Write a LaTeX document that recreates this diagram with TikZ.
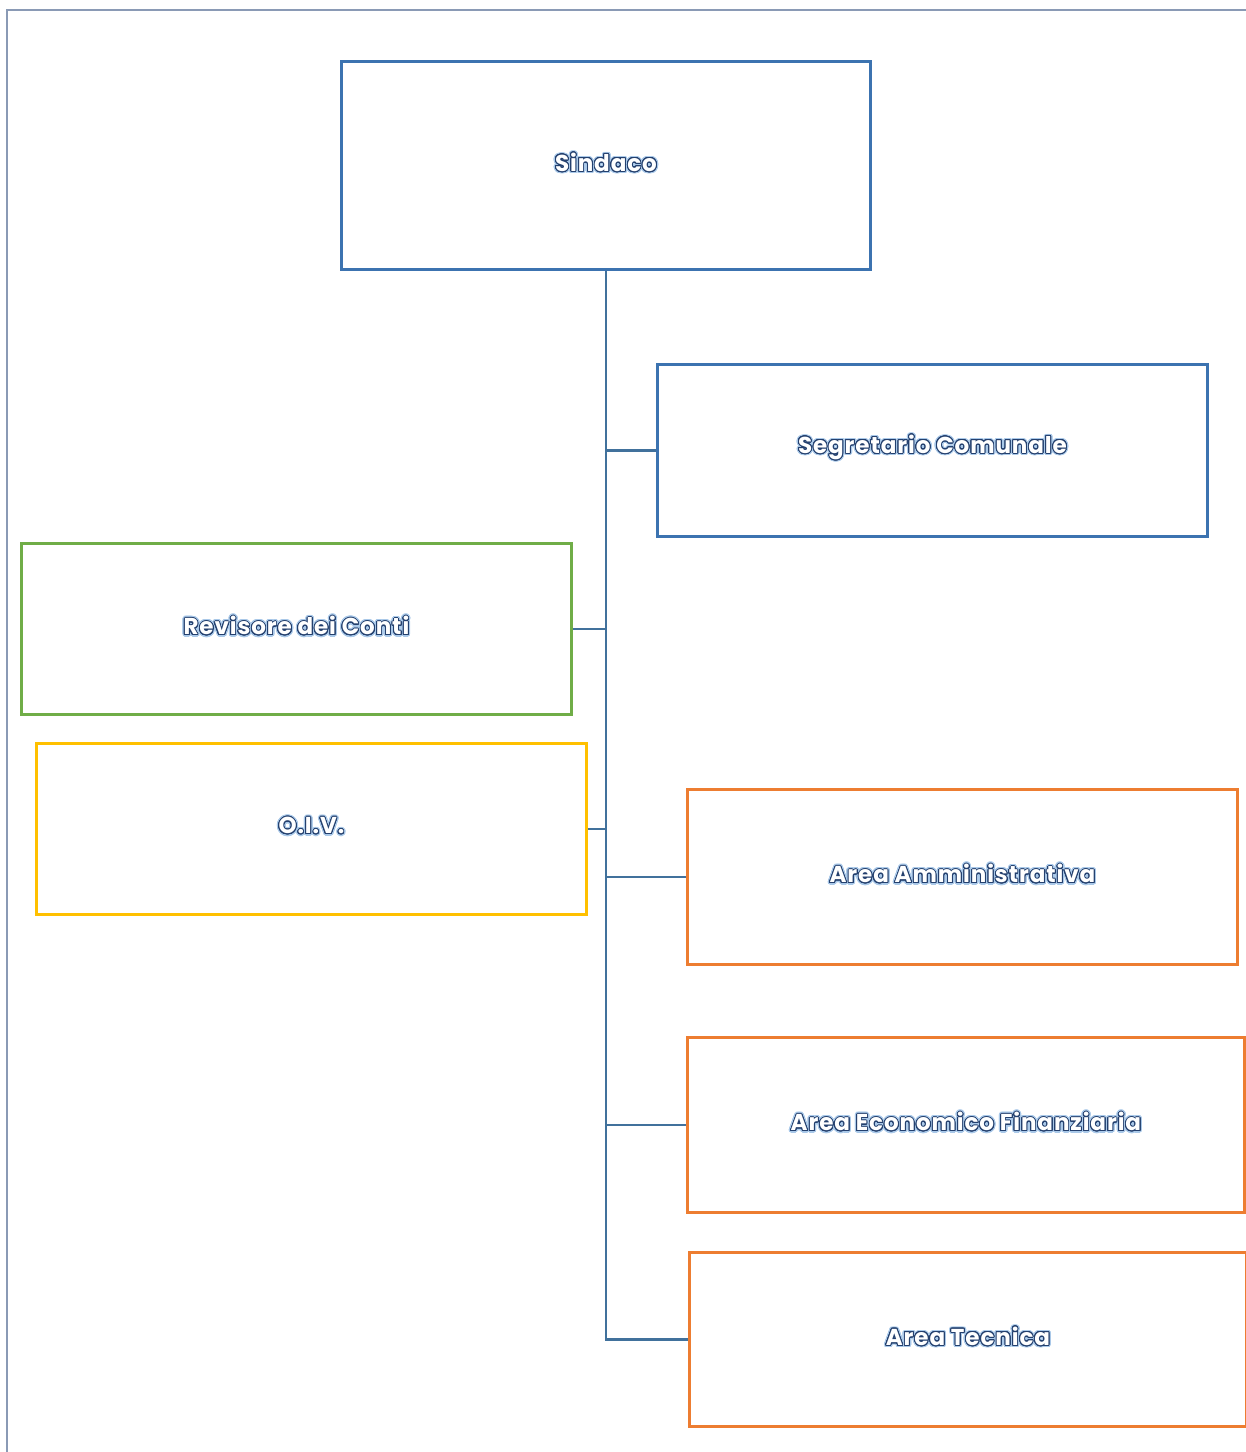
\documentclass[tikz,border=0pt]{standalone}
\usepackage{fontspec}
\setmainfont{Poppins}[LetterSpace=4]
\usepackage[copies]{contour}
\contourlength{0.9pt}
\contournumber{24}
\definecolor{frameline}{HTML}{8A9AB5}
\definecolor{bluebox}{HTML}{3C73B0}
\definecolor{greenbox}{HTML}{70AD47}
\definecolor{yellowbox}{HTML}{FFC000}
\definecolor{orangebox}{HTML}{ED7D31}
\definecolor{conn}{HTML}{41719C}
\definecolor{txtline}{HTML}{24406E}
\definecolor{glowc}{HTML}{A9C8E8}
\newcommand{\outl}[1]{\rlap{\contourlength{2.3pt}\contour{glowc}{\color{glowc}#1}}\contour{txtline}{\color{white}#1}}
\tikzset{
  unitbox/.style={draw, line width=2.8pt, inner sep=0pt, anchor=north west},
  unitlabel/.style={yshift=2pt, font=\bfseries\fontsize{23}{26}\selectfont},
  connline/.style={draw=conn, line width=2.8pt},
}
\begin{document}
\begin{tikzpicture}[x=1pt,y=-1pt]
\useasboundingbox (0,0) rectangle (1246,1452);
\draw[frameline, line width=1.6pt] (7,1452) -- (7,10) -- (1246,10);
\node[unitbox, draw=bluebox, minimum width=529pt, minimum height=208pt] (sindaco) at (340,60) {};
\node[unitlabel] at (sindaco.center) (sindacot) {\outl{Sindaco}};
\node[unitbox, draw=bluebox, minimum width=550pt, minimum height=172pt] (segr) at (656,363) {};
\node[unitlabel] at (segr.center) (segrt) {\outl{Segretario Comunale}};
\node[unitbox, draw=greenbox, minimum width=550pt, minimum height=171pt] (rev) at (20,542) {};
\node[unitlabel] at (rev.center) (revt) {\outl{Revisore dei Conti}};
\node[unitbox, draw=yellowbox, minimum width=550pt, minimum height=171pt] (oiv) at (35,742) {};
\node[unitlabel] at (oiv.center) (oivt) {\outl{O.I.V.}};
\node[unitbox, draw=orangebox, minimum width=550pt, minimum height=175pt] (amm) at (686,788) {};
\node[unitlabel] at (amm.center) (ammt) {\outl{Area Amministrativa}};
\node[unitbox, draw=orangebox, minimum width=557pt, minimum height=175pt] (eco) at (686,1036) {};
\node[unitlabel] at (eco.center) (ecot) {\outl{Area Economico Finanziaria}};
\node[unitbox, draw=orangebox, minimum width=557pt, minimum height=174pt] (tec) at (688,1251) {};
\node[unitlabel] at (tec.center) (tect) {\outl{Area Tecnica}};
\coordinate (trunkbot) at (sindaco.south |- tec.west);
\draw[connline] (sindaco.south) -- (trunkbot) -- (tec.west);
\draw[connline] (segr.west) -- (segr.west -| sindaco.south);
\draw[connline] (rev.east) -- (rev.east -| sindaco.south);
\draw[connline] (oiv.east) -- (oiv.east -| sindaco.south);
\draw[connline] (amm.west) -- (amm.west -| sindaco.south);
\draw[connline] (eco.west) -- (eco.west -| sindaco.south);
\end{tikzpicture}
\end{document}
